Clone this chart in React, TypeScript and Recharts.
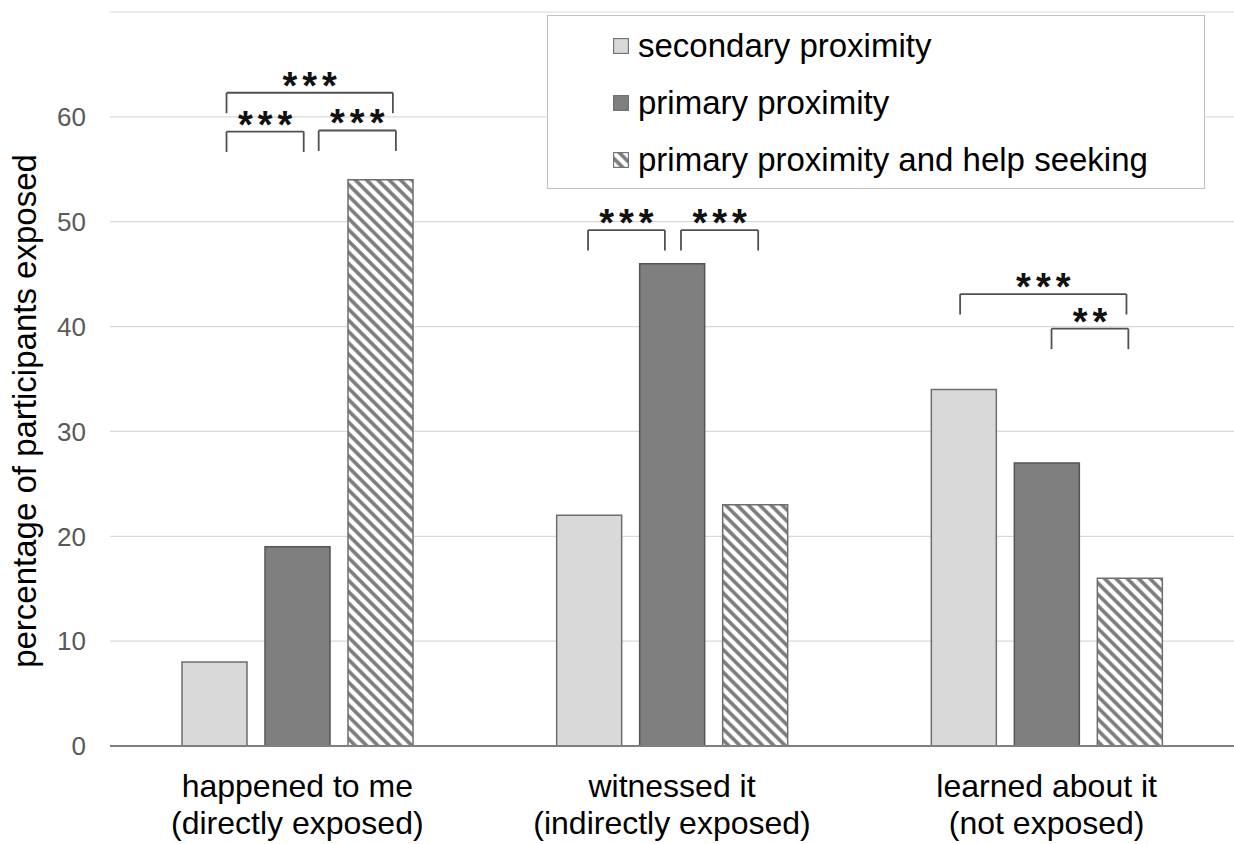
import React from 'react';
import { BarChart, Bar, XAxis, YAxis, CartesianGrid, Legend, ReferenceLine } from 'recharts';

const FONT = '"Liberation Sans", Arial, Helvetica, sans-serif';

const categories = ['happened to me', 'witnessed it', 'learned about it'];
const subLabels = ['(directly exposed)', '(indirectly exposed)', '(not exposed)'];
const seriesNames = ['secondary proximity', 'primary proximity', 'primary proximity and help seeking'];
const secondary = [8, 22, 34];
const primary = [19, 46, 27];
const helpSeeking = [54, 23, 16];
const yTicks = [0, 10, 20, 30, 40, 50, 60];

// significance brackets: x in category units (0..3 across the plot), y in percent
const bracketX1 = [0.311, 0.557, 0.311, 1.276, 1.524, 2.269, 2.513];
const bracketX2 = [0.517, 0.763, 0.755, 1.481, 1.73, 2.713, 2.718];
const bracketTop = [58.6, 58.7, 62.3, 49.2, 49.2, 43.1, 39.8];
const bracketStars = ['***', '***', '***', '***', '***', '***', '**'];
const BRACKET_DROP = 1.95;

const data = categories.map((name, i) => ({
    name,
    pos: i + 0.5,
    secondary: secondary[i],
    primary: primary[i],
    help: helpSeeking[i],
}));

const CategoryTick = ({ x, y, payload }: any) => {
    const i = categories.indexOf(payload.value);
    return (
        <text x={x} y={y} textAnchor="middle" fontSize={32} fill="#000" fontFamily={FONT}>
            <tspan x={x} dy={43}>{payload.value}</tspan>
            <tspan x={x} dy={37}>{subLabels[i]}</tspan>
        </text>
    );
};

const renderLegend = ({ payload }: any) => {
    const items = [...(payload || [])].sort((a: any, b: any) => seriesNames.indexOf(a.value) - seriesNames.indexOf(b.value));
    return (
        <div style={{ width: 658, height: 174, boxSizing: 'border-box', border: '1.5px solid #bfbfbf', background: '#fff', paddingTop: 1 }}>
            {items.map((entry: any) => (
                <div key={entry.value} style={{ display: 'flex', alignItems: 'center', height: 57, paddingLeft: 65 }}>
                    <svg width={16} height={16} style={{ marginRight: 9 }}>
                        <rect x={0.6} y={0.6} width={14.8} height={14.8} fill={entry.color} stroke="#6e6e6e" strokeWidth={1.1} />
                    </svg>
                    <span style={{ fontFamily: FONT, fontSize: 33, color: '#000', lineHeight: 1 }}>{entry.value}</span>
                </div>
            ))}
        </div>
    );
};

const starLabel = (text: string) => (props: any) => {
    const vb = props.viewBox || {};
    const cx = (vb.x || 0) + (vb.width || 0) / 2;
    return (
        <text x={cx + 2.5} y={(vb.y || 0) + 6} textAnchor="middle" fontSize={38} fontWeight="bold" letterSpacing={5} fill="#111" fontFamily={FONT}>
            {text}
        </text>
    );
};

const yLabel = (props: any) => {
    const vb = props.viewBox || {};
    const cy = (vb.y || 0) + (vb.height || 0) / 2 + 32;
    return (
        <text x={36} y={cy} transform={`rotate(-90, 36, ${cy})`} textAnchor="middle" fontSize={33} fill="#000" fontFamily={FONT}>
            percentage of participants exposed
        </text>
    );
};

export default function App() {
    return (
        <div style={{ position: 'absolute', left: 0, top: 0, background: '#fff' }}>
            <svg width={0} height={0} style={{ position: 'absolute' }}>
                <defs>
                    <pattern id="hatch" width={8} height={8} patternUnits="userSpaceOnUse" patternTransform="rotate(-45)">
                        <rect width={8} height={8} fill="#fff" />
                        <line x1={4} y1={0} x2={4} y2={8} stroke="#7a7a7a" strokeWidth={3.6} />
                    </pattern>
                </defs>
            </svg>
            <BarChart
                width={1234}
                height={844}
                data={data}
                margin={{ top: 12, right: 0, bottom: 0, left: 10 }}
                barCategoryGap={72}
                barGap={18}
            >
                <CartesianGrid vertical={false} stroke="#d9d9d9" strokeWidth={1.2} />
                <XAxis
                    dataKey="name"
                    height={98}
                    axisLine={{ stroke: '#7f7f7f', strokeWidth: 2 }}
                    tickLine={false}
                    tick={<CategoryTick />}
                    interval={0}
                />
                <XAxis xAxisId="num" dataKey="pos" type="number" scale="linear" domain={[0, 3]} hide allowDataOverflow />
                <YAxis
                    width={100}
                    domain={[0, 70]}
                    ticks={yTicks}
                    axisLine={false}
                    tickLine={false}
                    tickMargin={18}
                    tick={{ fontSize: 26, fill: '#595959', fontFamily: FONT }}
                    label={yLabel}
                />
                <Legend
                    layout="horizontal"
                    verticalAlign="middle"
                    align="center"
                    width={658}
                    height={174}
                    wrapperStyle={{ left: 547, top: 15, width: 658, height: 174 }}
                    content={renderLegend}
                />
                <Bar dataKey="secondary" name={seriesNames[0]} fill="#d9d9d9" stroke="#6e6e6e" strokeWidth={1.5} isAnimationActive={false} />
                <Bar dataKey="primary" name={seriesNames[1]} fill="#7f7f7f" stroke="#555555" strokeWidth={1.5} isAnimationActive={false} />
                <Bar dataKey="help" name={seriesNames[2]} fill="url(#hatch)" stroke="#6e6e6e" strokeWidth={1.5} isAnimationActive={false} />
                {bracketX1.map((x1, i) => {
                    const x2 = bracketX2[i];
                    const top = bracketTop[i];
                    const bottom = top - BRACKET_DROP;
                    const lineProps = { xAxisId: 'num', stroke: '#505050', strokeWidth: 1.8, ifOverflow: 'visible' as const };
                    return [
                        <ReferenceLine key={`l${i}`} {...lineProps} segment={[{ x: x1, y: top }, { x: x1, y: bottom }]} />,
                        <ReferenceLine key={`t${i}`} {...lineProps} segment={[{ x: x1, y: top }, { x: x2, y: top }]} label={starLabel(bracketStars[i])} />,
                        <ReferenceLine key={`r${i}`} {...lineProps} segment={[{ x: x2, y: top }, { x: x2, y: bottom }]} />,
                    ];
                })}
            </BarChart>
        </div>
    );
}
